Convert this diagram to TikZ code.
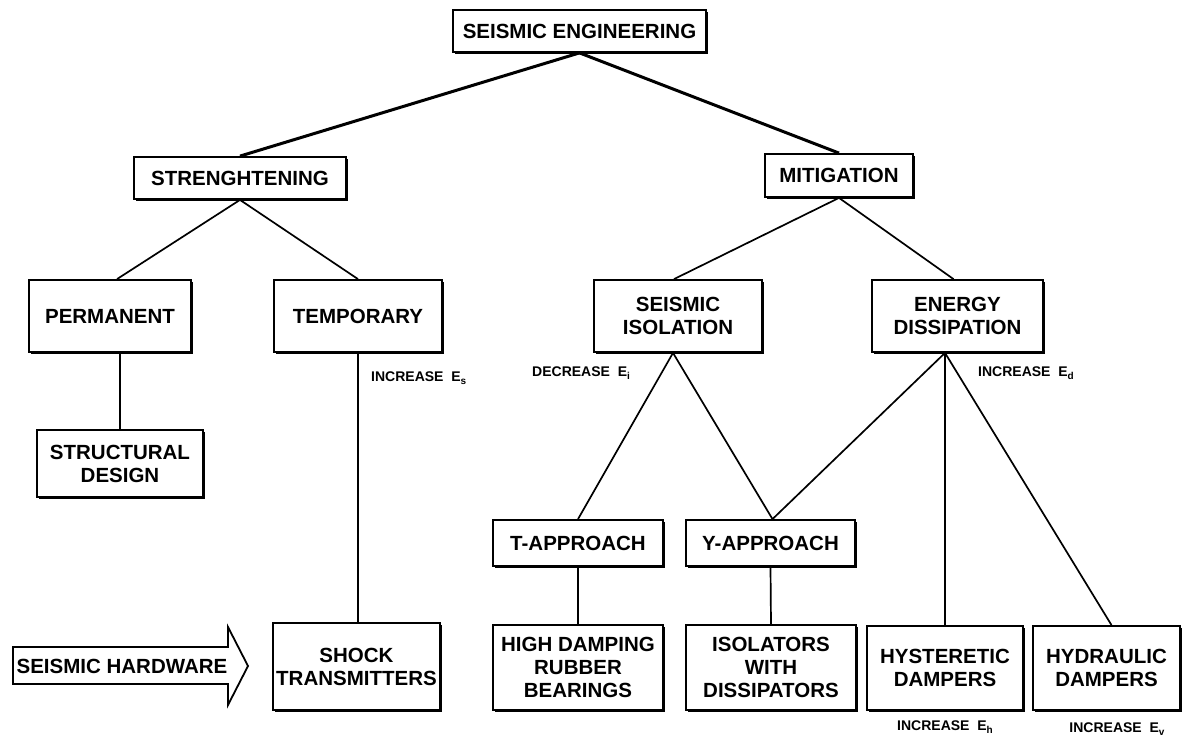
\documentclass[tikz,border=0pt]{standalone}
\usepackage{fontspec}
\setmainfont{Liberation Sans}
\usetikzlibrary{shadows,calc}
\newcommand{\lsub}[1]{\raisebox{-3.5pt}{\fontsize{10}{10}\selectfont #1}}
\begin{document}
\begin{tikzpicture}[x=1pt,y=-1pt,
  box/.style={draw, line width=1.8pt, fill=white, inner sep=0pt, align=center,
    font=\fontsize{20.5}{23}\selectfont\bfseries,
    drop shadow={shadow xshift=2pt, shadow yshift=-2pt, fill=black, opacity=1}},
  thin/.style={line width=1.7pt},
  thick/.style={line width=3pt},
  lab/.style={inner sep=0pt, font=\fontsize{14}{15}\selectfont\bfseries}]
\useasboundingbox (0,0) rectangle (1184,738);
\node[box, minimum width=253, minimum height=42] (top) at (579.5,31) {SEISMIC ENGINEERING};
\node[box, minimum width=212, minimum height=42] (str) at (240,178) {STRENGHTENING};
\node[box, minimum width=148, minimum height=43] (mit) at (839,175.5) {MITIGATION};
\node[box, minimum width=162, minimum height=72] (perm) at (110,316) {PERMANENT};
\node[box, minimum width=168, minimum height=72] (temp) at (358,316) {TEMPORARY};
\node[box, minimum width=168, minimum height=72] (si) at (678,316) {SEISMIC\\ISOLATION};
\node[box, minimum width=171, minimum height=72] (ed) at (957.5,316) {ENERGY\\DISSIPATION};
\node[box, minimum width=166, minimum height=67] (struct) at (120,463.5) {STRUCTURAL\\DESIGN};
\node[box, minimum width=170, minimum height=46] (ta) at (578,543) {T-APPROACH};
\node[box, minimum width=169, minimum height=46] (ya) at (770.5,543) {Y-APPROACH};
\node[box, minimum width=167, minimum height=87] (shock) at (356.5,666.5) {SHOCK\\TRANSMITTERS};
\node[box, minimum width=170, minimum height=85] (hd) at (578,667.5) {HIGH DAMPING\\RUBBER\\BEARINGS};
\node[box, minimum width=170, minimum height=85] (iso) at (771,667.5) {ISOLATORS\\WITH\\DISSIPATORS};
\node[box, minimum width=156, minimum height=84] (hy) at (945,668) {HYSTERETIC\\DAMPERS};
\node[box, minimum width=147, minimum height=84] (hyd) at (1106.5,668) {HYDRAULIC\\DAMPERS};

% seismic hardware arrow
\draw[line width=1.8pt, line join=miter] (13,647) -- (228,647) -- (228,627) -- (248,666) -- (228,705) -- (228,684) -- (13,684) -- cycle;
\node[inner sep=0pt, font=\fontsize{20.5}{23}\selectfont\bfseries] (hw) at (122,666) {SEISMIC HARDWARE};

% connectors
\draw[thick] (top.south) -- (str.north);
\draw[thick] (top.south) -- (mit.north);
\draw[thin] (str.south) -- ([xshift=7pt]perm.north);
\draw[thin] (str.south) -- (temp.north);
\draw[thin] (mit.south) -- ([xshift=-4pt]si.north);
\draw[thin] (mit.south) -- ([xshift=-4pt]ed.north);
\draw[thin] (struct.north |- perm.south) -- (struct.north);
\draw[thin] (temp.south) -- (temp.south |- shock.north);
\draw[thin] ([xshift=-5pt]si.south) -- (ta.north);
\draw[thin] ([xshift=-5pt]si.south) -- ([xshift=2pt]ya.north);
\draw[thin] (ed.south -| hy.north) -- ([xshift=2pt]ya.north);
\draw[thin] (ed.south -| hy.north) -- (hy.north);
\draw[thin] (ed.south -| hy.north) -- ([xshift=5pt]hyd.north);
\draw[thin] (ta.south) -- (hd.north);
\draw[thin] (ya.south) -- (iso.north);

% labels
\node[lab, anchor=west] (les) at (371,378) {INCREASE\ \ E\lsub{s}};
\node[lab, anchor=west] (lei) at (532,373) {DECREASE\ \ E\lsub{i}};
\node[lab, anchor=west] (led) at (978,373) {INCREASE\ \ E\lsub{d}};
\node[lab] (leh) at (945,727) {INCREASE\ \ E\lsub{h}};
\node[lab] (lev) at (1117,729) {INCREASE\ \ E\lsub{v}};
\end{tikzpicture}
\end{document}
